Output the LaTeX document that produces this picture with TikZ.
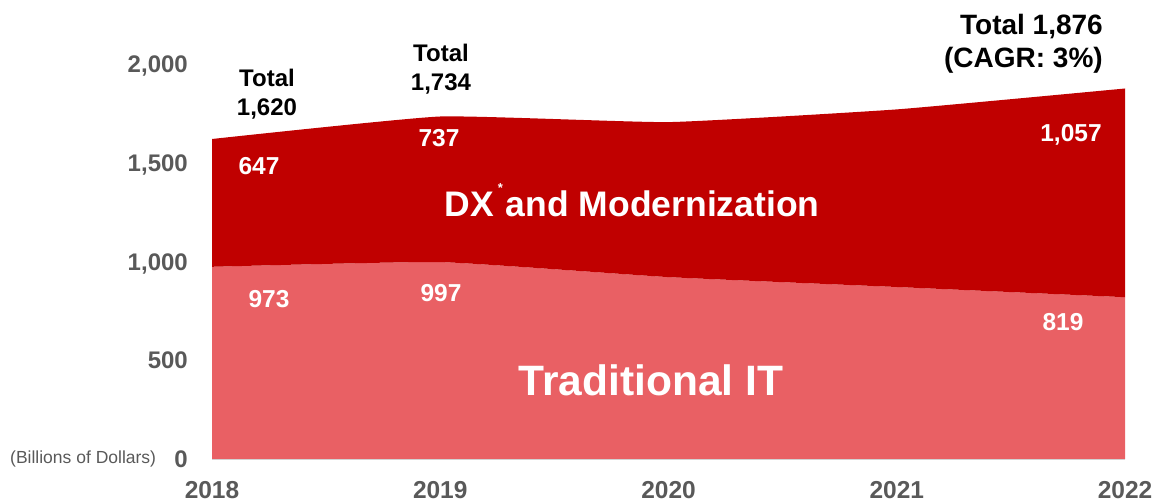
\documentclass[tikz,border=0pt]{standalone}
\usepackage{fontspec}
\setmainfont{Liberation Sans}
\definecolor{dxred}{HTML}{C00000}
\definecolor{itpink}{HTML}{E96064}
\definecolor{axgray}{HTML}{595959}
\begin{document}
\begin{tikzpicture}[x=1pt,y=-1pt,
  axlbl/.style={font=\bfseries\fontsize{24}{28}\selectfont, text=axgray, inner sep=0pt, anchor=base east},
  yrlbl/.style={font=\bfseries\fontsize{24.5}{28}\selectfont, text=axgray, inner sep=0pt, anchor=base},
  datlbl/.style={font=\bfseries\fontsize{24.5}{28}\selectfont, text=white, inner sep=0pt, anchor=base},
  totlbl/.style={font=\bfseries\fontsize{24}{29}\selectfont, text=black, inner sep=0pt, anchor=north, align=center},
  bigtot/.style={font=\bfseries\fontsize{28}{32}\selectfont, text=black, inner sep=0pt, anchor=base east},
  serieslbl/.style={font=\bfseries, text=white, inner sep=0pt, anchor=base}]
\useasboundingbox (0,0) rectangle (1156,502);
% areas
\fill[itpink] (212,459) -- plot[smooth, tension=0.25] coordinates {(212,266.8) (440.25,262.1) (668.5,277.1) (896.75,287.0) (1125,297.2)} -- (1125,459) -- cycle;
\fill[dxred] plot[smooth, tension=0.25] coordinates {(212,266.8) (440.25,262.1) (668.5,277.1) (896.75,287.0) (1125,297.2)}
  -- plot[smooth, tension=0.25] coordinates {(1125,88.5) (896.75,109.4) (668.5,122.1) (440.25,116.5) (212,139.0)} -- cycle;
\draw[gray!35, line width=1pt] (212,459.5) -- (1125,459.5);
% y axis
\node[axlbl] (y2000) at (188,72.5) {2,000};
\node[axlbl] (y1500) at (188,171.5) {1,500};
\node[axlbl] (y1000) at (188,270.5) {1,000};
\node[axlbl] (y500) at (188,368.5) {500};
\node[axlbl] (y0) at (188,467.5) {0};
\node[font=\fontsize{17.5}{20}\selectfont, text=axgray, inner sep=0pt, anchor=base west] (unit) at (10,463) {(Billions of Dollars)};
% x axis
\node[yrlbl] (x2018) at (212,498.6) {2018};
\node[yrlbl] (x2019) at (440.25,498.6) {2019};
\node[yrlbl] (x2020) at (668.5,498.6) {2020};
\node[yrlbl] (x2021) at (896.75,498.6) {2021};
\node[yrlbl] (x2022) at (1125,498.6) {2022};
% totals
\node[totlbl] (t2018) at (267,69) {Total\\1,620};
\node[totlbl] (t2019) at (441,44) {Total\\1,734};
\node[bigtot] (t2022) at (1103,35) {Total 1,876};
\node[bigtot] (cagr) at (1103,68) {(CAGR: 3\%)};
% data labels
\node[datlbl] (d2018) at (259,174.6) {647};
\node[datlbl] (d2019) at (439,146.6) {737};
\node[datlbl] (d2022) at (1071,141.6) {1,057};
\node[datlbl] (i2018) at (269,307.6) {973};
\node[datlbl] (i2019) at (441,301.6) {997};
\node[datlbl] (i2022) at (1063,330.6) {819};
% series labels
\node[serieslbl, font=\bfseries\fontsize{35.5}{38}\selectfont] (dx) at (632,217) {DX\hspace{4pt}\raisebox{24pt}{\fontsize{13}{13}\selectfont *}\hspace{3pt}and Modernization};
\node[serieslbl, font=\bfseries\fontsize{42.5}{46}\selectfont] (trad) at (651,395) {Traditional IT};
\end{tikzpicture}
\end{document}
